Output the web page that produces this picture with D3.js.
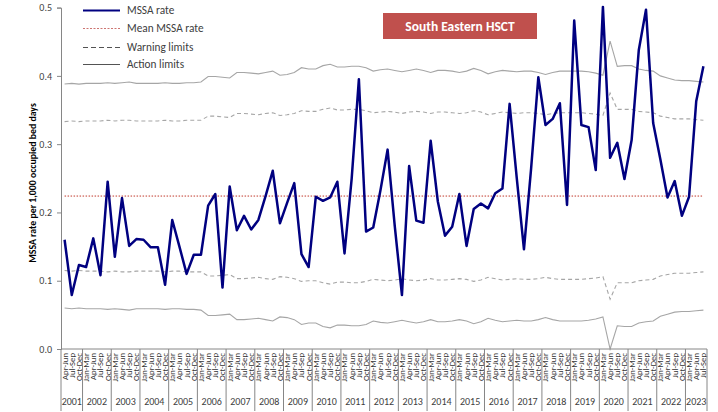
<!DOCTYPE html>
<html>
<head>
<meta charset="utf-8">
<script src="https://cdn.jsdelivr.net/npm/d3@7"></script>
<style>
  body { margin: 0; background: #fff; }
  text { font-family: Carlito, Calibri, "Liberation Sans Narrow", "Liberation Sans", sans-serif; }
</style>
</head>
<body>
<svg width="718" height="412"></svg>
<script>
var quarters = ["Jan-Mar", "Apr-Jun", "Jul-Sep", "Oct-Dec"];
var years = [2001, 2002, 2003, 2004, 2005, 2006, 2007, 2008, 2009, 2010, 2011, 2012,
             2013, 2014, 2015, 2016, 2017, 2018, 2019, 2020, 2021, 2022, 2023];
// 2001 starts at Apr-Jun, 2023 stops at Jul-Sep
var firstQuarter = 1, lastQuarter = 2;

var rate = [0.160, 0.079, 0.123,
  0.120, 0.162, 0.108, 0.245,  0.135, 0.221, 0.151, 0.161,  0.160, 0.149, 0.149, 0.094,
  0.189, 0.150, 0.110, 0.138,  0.138, 0.210, 0.227, 0.090,  0.238, 0.174, 0.195, 0.175,
  0.189, 0.224, 0.261, 0.184,  0.214, 0.243, 0.139, 0.120,  0.223, 0.217, 0.222, 0.245,
  0.140, 0.250, 0.395, 0.172,  0.178, 0.232, 0.292, 0.180,  0.079, 0.268, 0.188, 0.185,
  0.305, 0.216, 0.166, 0.179,  0.227, 0.151, 0.205, 0.213,  0.206, 0.228, 0.235, 0.359,
  0.250, 0.146, 0.265, 0.398,  0.328, 0.337, 0.360, 0.211,  0.481, 0.328, 0.325, 0.262,
  0.501, 0.280, 0.302, 0.249,  0.306, 0.438, 0.497, 0.331,  0.278, 0.222, 0.246, 0.195,
  0.223, 0.363, 0.414];

var meanRate = 0.224;

var upperAction = [0.388, 0.389, 0.388,
  0.389, 0.389, 0.389, 0.390,  0.389, 0.390, 0.391, 0.389,  0.389, 0.389, 0.389, 0.390,
  0.389, 0.389, 0.390, 0.390,  0.391, 0.399, 0.399, 0.398,  0.397, 0.405, 0.405, 0.404,
  0.403, 0.405, 0.407, 0.401,  0.402, 0.405, 0.412, 0.410,  0.410, 0.415, 0.417, 0.413,
  0.413, 0.414, 0.414, 0.412,  0.407, 0.409, 0.410, 0.408,  0.406, 0.408, 0.410, 0.408,
  0.405, 0.408, 0.408, 0.407,  0.405, 0.407, 0.411, 0.408,  0.403, 0.406, 0.408, 0.407,
  0.406, 0.407, 0.407, 0.405,  0.402, 0.405, 0.407, 0.407,  0.407, 0.407, 0.406, 0.404,
  0.401, 0.451, 0.414, 0.415,  0.415, 0.410, 0.408, 0.407,  0.400, 0.397, 0.394, 0.393,
  0.393, 0.392, 0.391];

var upperWarning = [0.333, 0.334, 0.333,
  0.334, 0.334, 0.334, 0.335,  0.334, 0.335, 0.335, 0.334,  0.334, 0.334, 0.334, 0.335,
  0.334, 0.334, 0.335, 0.335,  0.335, 0.341, 0.341, 0.340,  0.339, 0.345, 0.345, 0.344,
  0.343, 0.345, 0.346, 0.342,  0.343, 0.345, 0.349, 0.348,  0.348, 0.351, 0.353, 0.350,
  0.350, 0.351, 0.351, 0.349,  0.346, 0.347, 0.348, 0.347,  0.345, 0.347, 0.348, 0.347,
  0.345, 0.347, 0.347, 0.346,  0.345, 0.346, 0.349, 0.347,  0.343, 0.345, 0.347, 0.346,
  0.345, 0.346, 0.346, 0.345,  0.343, 0.345, 0.346, 0.346,  0.346, 0.346, 0.345, 0.344,
  0.342, 0.375, 0.351, 0.351,  0.351, 0.348, 0.347, 0.346,  0.341, 0.339, 0.337, 0.337,
  0.337, 0.336, 0.335];

var lowerWarning = [0.115, 0.114, 0.115,
  0.114, 0.114, 0.114, 0.113,  0.114, 0.113, 0.113, 0.114,  0.114, 0.114, 0.114, 0.113,
  0.114, 0.114, 0.113, 0.113,  0.113, 0.107, 0.107, 0.108,  0.109, 0.103, 0.103, 0.104,
  0.105, 0.103, 0.102, 0.106,  0.105, 0.103, 0.099, 0.100,  0.100, 0.097, 0.095, 0.098,
  0.098, 0.097, 0.097, 0.099,  0.102, 0.101, 0.100, 0.101,  0.103, 0.101, 0.100, 0.101,
  0.103, 0.101, 0.101, 0.102,  0.103, 0.102, 0.099, 0.101,  0.105, 0.103, 0.101, 0.102,
  0.103, 0.102, 0.102, 0.103,  0.105, 0.103, 0.102, 0.102,  0.102, 0.102, 0.103, 0.104,
  0.106, 0.073, 0.097, 0.097,  0.097, 0.100, 0.101, 0.102,  0.107, 0.109, 0.111, 0.111,
  0.111, 0.112, 0.113];

var lowerAction = [0.060, 0.059, 0.060,
  0.059, 0.059, 0.059, 0.058,  0.059, 0.058, 0.057, 0.059,  0.059, 0.059, 0.059, 0.058,
  0.059, 0.059, 0.058, 0.058,  0.057, 0.049, 0.049, 0.050,  0.051, 0.043, 0.043, 0.044,
  0.045, 0.043, 0.041, 0.047,  0.046, 0.043, 0.036, 0.038,  0.038, 0.033, 0.031, 0.035,
  0.035, 0.034, 0.034, 0.036,  0.041, 0.039, 0.038, 0.040,  0.042, 0.040, 0.038, 0.040,
  0.043, 0.040, 0.040, 0.041,  0.043, 0.041, 0.037, 0.040,  0.045, 0.042, 0.040, 0.041,
  0.042, 0.041, 0.041, 0.043,  0.046, 0.043, 0.041, 0.041,  0.041, 0.041, 0.042, 0.044,
  0.047, 0.000, 0.034, 0.033,  0.033, 0.038, 0.040, 0.041,  0.048, 0.051, 0.054, 0.055,
  0.055, 0.056, 0.057];

var yTicks = [0, 0.1, 0.2, 0.3, 0.4, 0.5];

// build the list of periods (year + quarter)
var periods = [];
years.forEach(function(yr, yi) {
  var q0 = yi == 0 ? firstQuarter : 0;
  var q1 = yi == years.length - 1 ? lastQuarter : 3;
  for (var q = q0; q <= q1; q++) periods.push({ year: yr, q: quarters[q], i: periods.length });
});

var svg = d3.select("svg");
// note: "top" is taken by window.top, so use other names
var plotLeft = 61, plotRight = 707, plotTop = 7.6, plotBottom = 349;

var x = d3.scaleBand().domain(d3.range(periods.length)).range([plotLeft, plotRight]).padding(0);
var y = d3.scaleLinear().domain([0, 0.5]).range([plotBottom, plotTop]);
var cx = function(i) { return x(i) + x.bandwidth() / 2; };

var grey = "#a6a6a6";

function series(vals) {
  return d3.line().x(function(d, i) { return cx(i); }).y(function(d) { return y(d); })(vals);
}

// control limits
svg.append("path").attr("d", series(upperAction)).attr("fill", "none")
  .attr("stroke", grey).attr("stroke-width", 1.1);
svg.append("path").attr("d", series(lowerAction)).attr("fill", "none")
  .attr("stroke", grey).attr("stroke-width", 1.1);
svg.append("path").attr("d", series(upperWarning)).attr("fill", "none")
  .attr("stroke", grey).attr("stroke-width", 1.1).attr("stroke-dasharray", "4,3");
svg.append("path").attr("d", series(lowerWarning)).attr("fill", "none")
  .attr("stroke", grey).attr("stroke-width", 1.1).attr("stroke-dasharray", "4,3");

// mean
svg.append("line")
  .attr("x1", cx(0)).attr("x2", cx(periods.length - 1))
  .attr("y1", y(meanRate)).attr("y2", y(meanRate))
  .attr("stroke", "#c0392b").attr("stroke-width", 1).attr("stroke-dasharray", "1.5,1.5");

// rate
svg.append("path").attr("d", series(rate)).attr("fill", "none")
  .attr("stroke", "#000080").attr("stroke-width", 2.5).attr("stroke-linejoin", "round");

// y axis
var yAxis = svg.append("g").attr("transform", "translate(" + plotLeft + ",0)")
  .call(d3.axisLeft(y).tickValues(yTicks).tickFormat(d3.format(".1f")).tickSize(4).tickPadding(5));
yAxis.select(".domain").attr("stroke", "#868686");
yAxis.selectAll(".tick line").attr("stroke", "#868686");
yAxis.selectAll(".tick text").attr("fill", "#404040").style("font-size", "10px");

svg.append("text")
  .attr("transform", "translate(36,183) rotate(-90)")
  .attr("text-anchor", "middle")
  .style("font-size", "9.8px").style("font-weight", "bold").attr("fill", "#000")
  .text("MSSA rate per 1,000 occupied bed days");

// x axis
svg.append("line").attr("x1", plotLeft).attr("x2", plotRight)
  .attr("y1", plotBottom).attr("y2", plotBottom)
  .attr("stroke", "#868686");

svg.append("g").selectAll("text").data(periods).enter().append("text")
  .attr("transform", function(d) { return "translate(" + cx(d.i) + "," + (plotBottom + 4) + ") rotate(-90)"; })
  .attr("text-anchor", "end").attr("dy", "0.34em")
  .style("font-size", "8.7px").attr("fill", "#333")
  .text(function(d) { return d.q; });

var yearGroups = years.map(function(yr) {
  var ps = periods.filter(function(p) { return p.year == yr; });
  return { year: yr, start: ps[0].i, end: ps[ps.length - 1].i };
});

var bounds = yearGroups.map(function(g) { return x(g.start); }).concat([plotRight]);
svg.append("g").selectAll("line").data(bounds).enter().append("line")
  .attr("x1", function(d) { return d; }).attr("x2", function(d) { return d; })
  .attr("y1", plotBottom).attr("y2", 411)
  .attr("stroke", "#868686").attr("stroke-width", 1);

svg.append("g").selectAll("text").data(yearGroups).enter().append("text")
  .attr("x", function(g) { return (x(g.start) + x(g.end) + x.bandwidth()) / 2; })
  .attr("y", 405)
  .attr("text-anchor", "middle")
  .style("font-size", "10px").attr("fill", "#404040")
  .text(function(g) { return g.year; });

// title box
svg.append("rect").attr("x", 383).attr("y", 13).attr("width", 154).attr("height", 26)
  .attr("fill", "#c0504d");
svg.append("text").attr("x", 460).attr("y", 31).attr("text-anchor", "middle")
  .style("font-size", "13.5px").style("font-weight", "bold").attr("fill", "#fff")
  .text("South Eastern HSCT");

// legend
var legend = [
  { label: "MSSA rate", color: "#000080", width: 2.2, dash: null, y: 10.5 },
  { label: "Mean MSSA rate", color: "#c0504d", width: 0.8, dash: "2,1.5", y: 28.5 },
  { label: "Warning limits", color: "#404040", width: 0.9, dash: "5,3", y: 47.5 },
  { label: "Action limits", color: "#404040", width: 0.9, dash: null, y: 64.5 }
];
var lg = svg.append("g").selectAll("g").data(legend).enter().append("g");
lg.append("line").attr("x1", 83).attr("x2", 120)
  .attr("y1", function(d) { return d.y; }).attr("y2", function(d) { return d.y; })
  .attr("stroke", function(d) { return d.color; })
  .attr("stroke-width", function(d) { return d.width; })
  .attr("stroke-dasharray", function(d) { return d.dash; });
lg.append("text").attr("x", 127).attr("y", function(d) { return d.y; }).attr("dy", "0.35em")
  .style("font-size", "11.3px").attr("fill", "#404040")
  .text(function(d) { return d.label; });
</script>
</body>
</html>
